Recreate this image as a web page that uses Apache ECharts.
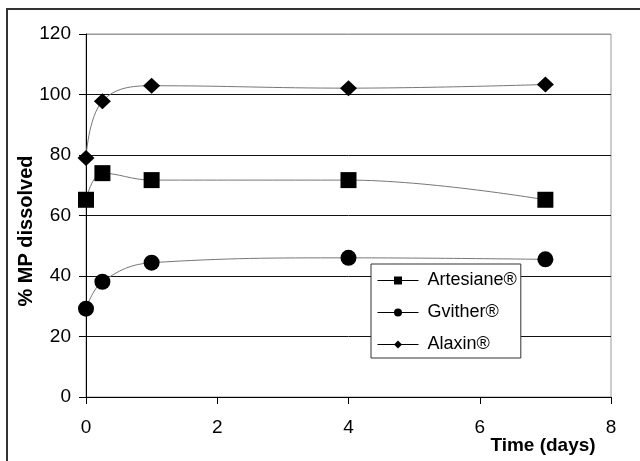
<!DOCTYPE html>
<html>
<head>
<meta charset="utf-8">
<script src="https://cdn.jsdelivr.net/npm/echarts@6/dist/echarts.min.js"></script>
<style>
html,body{margin:0;padding:0;background:#fff;}
#chart{width:640px;height:461px;}
</style>
</head>
<body>
<div id="chart"></div>
<script>
const days = [0, 0.25, 1, 4, 7];
const artesiane = [65.2, 74.0, 71.7, 71.7, 65.2];
const gvither = [29.2, 38.1, 44.4, 46.0, 45.5];
const alaxin = [79.0, 97.8, 102.9, 102.1, 103.3];
const seriesNames = ['Artesiane®', 'Gvither®', 'Alaxin®'];
const xTicks = [0, 2, 4, 6, 8];
const yTicks = [0, 20, 40, 60, 80, 100, 120];

const FONT = "'Liberation Sans', Arial, sans-serif";
const chart = echarts.init(document.getElementById('chart'), null, {renderer: 'canvas'});

function pairs(vals) { return days.map((d, i) => [d, vals[i]]); }

const lineStyle = {color: '#777', width: 1};
const option = {
  animation: false,
  backgroundColor: '#fff',
  grid: {left: 86, right: 29, top: 34, bottom: 64, show: true, borderColor: '#999', borderWidth: 1, containLabel: false},
  xAxis: {
    type: 'value', min: xTicks[0], max: xTicks[xTicks.length - 1], interval: 2,
    axisLine: {show: true, onZero: false, lineStyle: {color: '#000', width: 1}},
    axisTick: {show: true, inside: false, length: 7, lineStyle: {color: '#000'}},
    axisLabel: {margin: 21, color: '#000', fontSize: 19, fontFamily: FONT},
    splitLine: {show: false}
  },
  yAxis: {
    type: 'value', min: yTicks[0], max: yTicks[yTicks.length - 1], interval: 20,
    axisLine: {show: true, onZero: false, lineStyle: {color: '#000', width: 1}},
    axisTick: {show: true, inside: false, length: 7, lineStyle: {color: '#000'}},
    axisLabel: {margin: 15, color: '#000', fontSize: 19, fontFamily: FONT},
    splitLine: {show: true, lineStyle: {color: ['#000', '#111', '#111', '#111', '#111', '#111', '#999'], width: 1}}
  },
  legend: {
    orient: 'vertical', left: 371, top: 264,
    padding: [7, 4, 4, 6], itemGap: 13, itemWidth: 41, itemHeight: 10,
    backgroundColor: '#fff', borderColor: '#333', borderWidth: 1,
    textStyle: {color: '#000', fontSize: 18, fontFamily: FONT, lineHeight: 19, padding: [0, 0, 0, 4]},
    lineStyle: {color: '#000', width: 1},
    itemStyle: {color: '#000'},
    data: seriesNames
  },
  graphic: [
    {type: 'rect', shape: {x: 7, y: 9, width: 640, height: 460}, style: {fill: 'none', stroke: '#333', lineWidth: 2}, silent: true, z: 100},
    {type: 'text', x: 26, y: 231, rotation: Math.PI / 2, style: {text: '% MP dissolved', font: 'bold 20px ' + FONT, fill: '#000', align: 'center', verticalAlign: 'middle'}},
    {type: 'text', x: 543, y: 446, style: {text: 'Time (days)', font: 'bold 19px ' + FONT, fill: '#000', align: 'center', verticalAlign: 'middle'}}
  ],
  series: [
    {name: seriesNames[0], type: 'line', data: pairs(artesiane), smooth: 0.4, symbol: 'rect', symbolSize: 16, lineStyle: lineStyle, itemStyle: {color: '#000'}},
    {name: seriesNames[1], type: 'line', data: pairs(gvither), smooth: 0.4, symbol: 'circle', symbolSize: 16, lineStyle: lineStyle, itemStyle: {color: '#000'}},
    {name: seriesNames[2], type: 'line', data: pairs(alaxin), smooth: 0.4, symbol: 'diamond', symbolSize: [17, 16], lineStyle: lineStyle, itemStyle: {color: '#000'}}
  ]
};
chart.setOption(option);
</script>
</body>
</html>
